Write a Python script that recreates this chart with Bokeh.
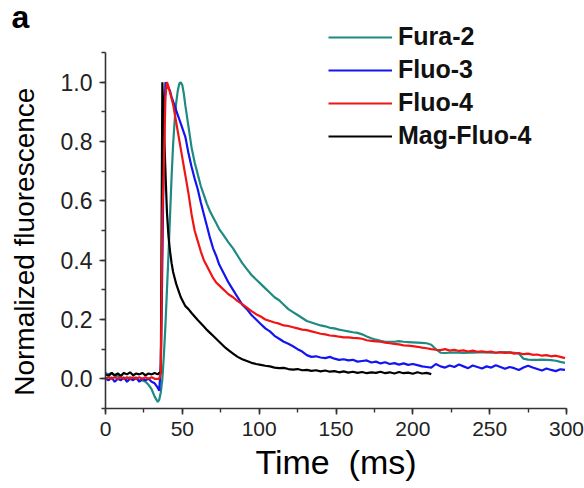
from bokeh.plotting import figure
from bokeh.models import (Range1d, SingleIntervalTicker, PrintfTickFormatter,
                          Legend, LegendItem)
from bokeh.embed import file_html
from bokeh.resources import INLINE

# ---- data -------------------------------------------------------------
time_ms = [0, 2, 4, 6, 8, 10, 12, 14, 16, 18, 20, 22, 24, 26, 28, 30, 32, 34,
           35, 36, 37, 38, 39, 40, 41, 42, 43, 44, 45, 46, 47, 48, 49, 50, 51, 52,
           54, 56, 58, 60, 62, 64, 66, 68, 70, 72, 74, 76, 78, 80,
           83, 86, 89, 92, 95, 98, 101, 104, 107, 110, 113, 116, 119, 122, 125,
           128, 131, 134, 137, 140, 143, 146, 149, 152, 155, 158, 161, 164, 167,
           170, 173, 176, 179, 182, 185, 188, 191, 194, 197, 200, 203, 206, 209, 212,
           215, 218, 221, 224, 227, 230, 233, 236, 239, 242, 245, 248, 251, 254,
           257, 260, 263, 266, 269, 272, 275, 278, 281, 284, 287, 290, 293, 296, 299]

fura2 = [0.02, 0.015, 0.02, 0.01, 0.01, 0.005, 0.0, 0.0, 0.005, 0.0, 0.0, -0.005, -0.005, -0.01, -0.02, -0.035, -0.06, -0.078,
         -0.07, -0.045, 0.0, 0.08, 0.18, 0.30, 0.42, 0.55, 0.68, 0.79, 0.87, 0.93, 0.97, 0.995, 1.0, 0.99, 0.96, 0.92,
         0.85, 0.78, 0.73, 0.69, 0.65, 0.62, 0.59, 0.565, 0.545, 0.525, 0.505, 0.49, 0.475, 0.46,
         0.44, 0.415, 0.39, 0.37, 0.35, 0.335, 0.32, 0.305, 0.29, 0.275, 0.265, 0.25, 0.235, 0.225, 0.215,
         0.205, 0.195, 0.19, 0.185, 0.18, 0.177, 0.172, 0.17, 0.166, 0.163, 0.16, 0.157, 0.155, 0.15,
         0.143, 0.137, 0.132, 0.128, 0.125, 0.125, 0.125, 0.127, 0.125, 0.124, 0.123, 0.122, 0.121, 0.12, 0.115,
         0.10, 0.088, 0.087, 0.088, 0.089, 0.088, 0.087, 0.088, 0.088, 0.089, 0.09, 0.089, 0.088, 0.088,
         0.089, 0.09, 0.089, 0.088, 0.085, 0.068, 0.065, 0.064, 0.064, 0.065, 0.064, 0.063, 0.061, 0.057, 0.054]

fluo3 = [0.0, -0.005, 0.005, -0.01, 0.0, -0.005, 0.005, -0.01, 0.0, -0.005, 0.005, -0.01, 0.0, -0.005, 0.0, -0.01, -0.015, -0.03,
         -0.04, 0.05, 0.40, 0.80, 1.0, 0.985, 0.98, 0.97, 0.95, 0.935, 0.92, 0.905, 0.89, 0.875, 0.86, 0.845, 0.83, 0.815,
         0.76, 0.715, 0.675, 0.64, 0.595, 0.555, 0.515, 0.475, 0.44, 0.415, 0.385, 0.365, 0.345, 0.325,
         0.30, 0.275, 0.25, 0.235, 0.215, 0.20, 0.185, 0.17, 0.16, 0.145, 0.135, 0.125, 0.118, 0.11, 0.10,
         0.092, 0.08, 0.074, 0.076, 0.072, 0.07, 0.074, 0.068, 0.064, 0.066, 0.062, 0.064, 0.058, 0.06,
         0.062, 0.055, 0.058, 0.052, 0.056, 0.05, 0.053, 0.048, 0.052, 0.047, 0.05, 0.046, 0.042, 0.04, 0.038,
         0.05, 0.042, 0.038, 0.045, 0.04, 0.048, 0.042, 0.036, 0.045, 0.04, 0.035, 0.042, 0.038, 0.046,
         0.04, 0.034, 0.04, 0.036, 0.03, 0.038, 0.044, 0.038, 0.033, 0.028, 0.035, 0.03, 0.026, 0.032, 0.03]

fluo4 = [0.0, 0.005, 0.0, 0.005, 0.0, 0.005, 0.0, 0.005, 0.0, 0.005, 0.0, 0.005, 0.0, 0.005, 0.0, 0.005, 0.0, 0.0,
         0.0, 0.02, 0.55, 0.72, 0.95, 1.0, 0.985, 0.965, 0.945, 0.925, 0.895, 0.865, 0.835, 0.805, 0.775, 0.745, 0.715, 0.685,
         0.625, 0.555, 0.50, 0.465, 0.43, 0.40, 0.38, 0.36, 0.34, 0.325, 0.315, 0.305, 0.295, 0.285,
         0.275, 0.262, 0.252, 0.24, 0.228, 0.218, 0.21, 0.20, 0.195, 0.19, 0.186, 0.18, 0.178, 0.174, 0.17,
         0.166, 0.164, 0.16, 0.156, 0.152, 0.15, 0.146, 0.145, 0.142, 0.14, 0.14, 0.138, 0.137, 0.135,
         0.13, 0.128, 0.126, 0.125, 0.122, 0.12, 0.118, 0.116, 0.113, 0.112, 0.11, 0.108, 0.105, 0.103, 0.10,
         0.098, 0.097, 0.10, 0.095, 0.098, 0.094, 0.096, 0.092, 0.095, 0.091, 0.093, 0.09, 0.092, 0.088,
         0.09, 0.087, 0.089, 0.085, 0.087, 0.083, 0.085, 0.081, 0.082, 0.078, 0.08, 0.076, 0.078, 0.074, 0.07]

time_mag_ms = time_ms[:94]
mag_fluo4 = [0.015, 0.01, 0.02, 0.012, 0.018, 0.01, 0.02, 0.015, 0.022, 0.012, 0.018, 0.015, 0.02, 0.012, 0.018, 0.015, 0.02, 0.015,
             0.02, 0.02, 1.0, 0.85, 0.70, 0.56, 0.48, 0.43, 0.39, 0.36, 0.34, 0.32, 0.305, 0.29, 0.275, 0.265, 0.255, 0.245,
             0.235, 0.222, 0.21, 0.198, 0.187, 0.176, 0.165, 0.155, 0.145, 0.135, 0.125, 0.115, 0.105, 0.097,
             0.085, 0.074, 0.066, 0.06, 0.054, 0.05, 0.047, 0.044, 0.042, 0.038, 0.036, 0.037, 0.033, 0.031, 0.033,
             0.029, 0.03, 0.027, 0.029, 0.025, 0.028, 0.024, 0.026, 0.022, 0.025, 0.021, 0.024, 0.02, 0.023,
             0.019, 0.022, 0.02, 0.024, 0.019, 0.022, 0.018, 0.023, 0.019, 0.021, 0.017, 0.022, 0.018, 0.02, 0.016]

series_names = ["Fura-2", "Fluo-3", "Fluo-4", "Mag-Fluo-4"]
x_ticks_step = 50
y_ticks_step = 0.2
x_limits = (0, 300)
y_axis_limits = (-0.1, 1.1)

# ---- figure -----------------------------------------------------------
FONT = "Liberation Sans"
TOP, BOTTOM = 20, 80          # borders in px; axis top sits 32 px below frame top
frame_h = 488 - TOP - BOTTOM
axis_px = frame_h - 32
y_top = y_axis_limits[0] + (y_axis_limits[1] - y_axis_limits[0]) * frame_h / axis_px

p = figure(width=584, height=488, output_backend="svg", toolbar_location=None,
           x_range=Range1d(*x_limits), y_range=Range1d(y_axis_limits[0], y_top),
           min_border_left=105, min_border_right=18, min_border_top=TOP,
           min_border_bottom=BOTTOM)
p.outline_line_color = None
p.grid.visible = False
p.background_fill_color = "white"
p.border_fill_color = "white"

r_fura = p.line(time_ms, fura2, line_color="#1f8a82", line_width=2.2)
r_fluo3 = p.line(time_ms, fluo3, line_color="#1414f0", line_width=2.2)
r_mag = p.line(time_mag_ms, mag_fluo4, line_color="black", line_width=2.2)
r_fluo4 = p.line(time_ms, fluo4, line_color="#f01414", line_width=2.2)

p.xaxis.ticker = SingleIntervalTicker(interval=x_ticks_step, num_minor_ticks=2)
p.yaxis.ticker = SingleIntervalTicker(interval=y_ticks_step, num_minor_ticks=2)
p.yaxis.formatter = PrintfTickFormatter(format="%.1f")
p.yaxis.bounds = y_axis_limits

for ax in (p.xaxis[0], p.yaxis[0]):
    ax.axis_line_color = "#333333"
    ax.axis_line_width = 1.6
    ax.major_tick_line_color = "#333333"
    ax.minor_tick_line_color = "#333333"
    ax.major_tick_line_width = 1.6
    ax.minor_tick_line_width = 1.4
    ax.major_tick_in = 0
    ax.major_tick_out = 6
    ax.minor_tick_in = 0
    ax.minor_tick_out = 4
    ax.major_label_text_font = FONT
    ax.major_label_text_color = "#222222"
    ax.axis_label_text_font = FONT
    ax.axis_label_text_font_style = "normal"
    ax.axis_label_text_color = "black"

p.xaxis.axis_label = "Time\u00a0\u00a0(ms)"
p.xaxis.axis_label_text_font_size = "34px"
p.xaxis.major_label_text_font_size = "21px"
p.xaxis.major_label_standoff = 7
p.xaxis.axis_label_standoff = 4

# trailing no-break spaces only shift the centred label down to the axis middle
p.yaxis.axis_label = "Normalized fluorescence" + "\u00a0" * 7
p.yaxis.axis_label_text_font_size = "28px"
p.yaxis.major_label_text_font_size = "23px"
p.yaxis.major_label_standoff = 7
p.yaxis.axis_label_standoff = 18

legend = Legend(items=[
    LegendItem(label=series_names[0], renderers=[r_fura]),
    LegendItem(label=series_names[1], renderers=[r_fluo3]),
    LegendItem(label=series_names[2], renderers=[r_fluo4]),
    LegendItem(label=series_names[3], renderers=[r_mag]),
], location=(223, 258))
legend.background_fill_alpha = 0
legend.border_line_color = None
legend.padding = 0
legend.margin = 0
legend.spacing = 4
legend.glyph_width = 64
legend.glyph_height = 28
legend.label_height = 28
legend.label_standoff = 6
legend.label_text_font = FONT
legend.label_text_font_size = "25px"
legend.label_text_font_style = "bold"
legend.label_text_color = "#111111"
p.add_layout(legend, "center")

p.title.text = "a"
p.title.text_font = FONT
p.title.text_font_size = "32px"
p.title.text_font_style = "bold"
p.title.text_color = "black"
p.title.align = "left"
p.title.vertical_align = "middle"
p.title.offset = -94
p.title.standoff = -30

open("out.html", "w").write(file_html(p, INLINE))
